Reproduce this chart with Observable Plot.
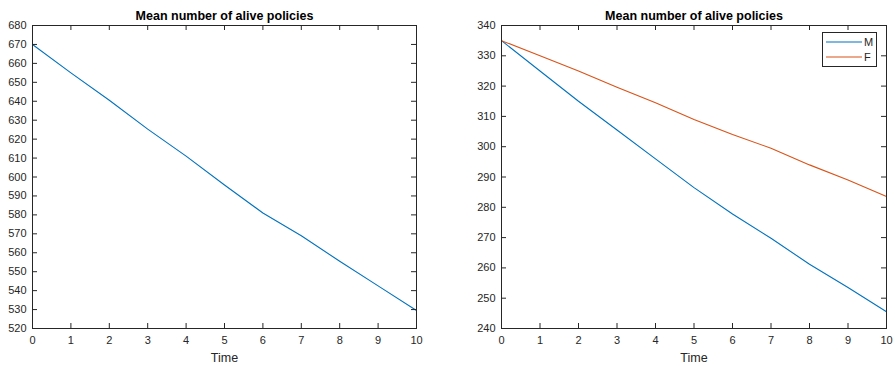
<!DOCTYPE html>
<html>
<head>
<meta charset="utf-8">
<script src="https://cdn.jsdelivr.net/npm/d3@7"></script>
<script src="https://cdn.jsdelivr.net/npm/@observablehq/plot@0.6"></script>
<style>
  html, body { margin: 0; padding: 0; background: #fff; }
  #wrap { position: relative; width: 895px; height: 366px; font-family: "Liberation Sans", Arial, Helvetica, sans-serif; }
  #left, #right { position: absolute; top: 0; }
  #left { left: 0; }
  #right { left: 450px; }
  #legend { position: absolute; left: 822px; top: 32px; width: 55px; height: 35px; border: 1px solid #262626; background: #fff; font-size: 11px; color: #262626; box-sizing: border-box; padding-top: 2px; }
  #legend .row { display: flex; align-items: center; height: 14.5px; }
  #legend svg { margin-left: 3px; margin-right: 2px; }
</style>
</head>
<body>
<div id="wrap">
  <div id="left"></div>
  <div id="right"></div>
  <div id="legend"></div>
</div>
<script>
const title = "Mean number of alive policies";
const xLabel = "Time";
const time = [0, 1, 2, 3, 4, 5, 6, 7, 8, 9, 10];
const totalMean = [670, 655, 640.5, 625.3, 611, 595.8, 581, 569, 555.5, 542.5, 529.5];
const seriesNames = ["M", "F"];
const maleMean = [335, 325, 315, 305.5, 296, 286.5, 277.8, 269.8, 261.2, 253.5, 245.5];
const femaleMean = [335, 330, 325, 319.6, 314.5, 309, 304, 299.5, 294, 289, 283.6];
const seriesColors = ["#0072BD", "#D95319"];
const xTicks = [0, 1, 2, 3, 4, 5, 6, 7, 8, 9, 10];
const yTicksLeft = d3.range(520, 681, 10);
const yTicksRight = d3.range(240, 341, 10);

const axisColor = "#262626";
const H = 366, MT = 25, MB = 38;
const innerH = H - MT - MB;
const tickLen = 5;

function panel({width, marginLeft, marginRight, yDomain, yTicks, lineMarks}) {
  const innerW = width - marginLeft - marginRight;
  return Plot.plot({
    width, height: H,
    marginLeft, marginRight, marginTop: MT, marginBottom: MB,
    style: {fontFamily: "'Liberation Sans', Arial, Helvetica, sans-serif", fontSize: "11px", color: axisColor, background: "transparent", overflow: "visible"},
    x: {domain: [0, 10]},
    y: {domain: yDomain},
    marks: [
      ...lineMarks,
      Plot.frame({stroke: axisColor, strokeWidth: 1}),
      Plot.tickX(xTicks, {x: d => d, stroke: axisColor, insetTop: innerH - tickLen}),
      Plot.tickX(xTicks, {x: d => d, stroke: axisColor, insetBottom: innerH - tickLen}),
      Plot.tickY(yTicks, {y: d => d, stroke: axisColor, insetRight: innerW - tickLen}),
      Plot.tickY(yTicks, {y: d => d, stroke: axisColor, insetLeft: innerW - tickLen}),
      Plot.axisX({ticks: xTicks, tickSize: 0, tickPadding: 8, label: null, tickFormat: d3.format("d")}),
      Plot.axisY({ticks: yTicks, tickSize: 0, tickPadding: 6, label: null, tickFormat: d3.format("d")}),
      Plot.text([title], {frameAnchor: "top", lineAnchor: "middle", dy: -10, fontWeight: "bold", fontSize: 12.5, fill: "#000"}),
      Plot.text([xLabel], {frameAnchor: "bottom", lineAnchor: "middle", dy: 29, fontSize: 12.5, fill: axisColor})
    ]
  });
}

const leftData = time.map((t, i) => ({t, v: totalMean[i]}));
document.getElementById("left").append(panel({
  width: 450, marginLeft: 32, marginRight: 34,
  yDomain: [520, 680], yTicks: yTicksLeft,
  lineMarks: [Plot.line(leftData, {x: "t", y: "v", stroke: seriesColors[0], strokeWidth: 1.1})]
}));

const rightData = [
  ...time.map((t, i) => ({t, v: maleMean[i], s: seriesNames[0]})),
  ...time.map((t, i) => ({t, v: femaleMean[i], s: seriesNames[1]}))
];
document.getElementById("right").append(panel({
  width: 445, marginLeft: 51, marginRight: 9,
  yDomain: [240, 340], yTicks: yTicksRight,
  lineMarks: seriesNames.map((name, k) =>
    Plot.line(rightData.filter(d => d.s === name), {x: "t", y: "v", stroke: seriesColors[k], strokeWidth: 1.1}))
}));

const legend = document.getElementById("legend");
seriesNames.forEach((name, k) => {
  const row = document.createElement("div");
  row.className = "row";
  row.innerHTML = `<svg width="36" height="4"><line x1="0" x2="36" y1="2" y2="2" stroke="${seriesColors[k]}" stroke-width="1.1"/></svg><span>${name}</span>`;
  legend.append(row);
});
</script>
</body>
</html>
